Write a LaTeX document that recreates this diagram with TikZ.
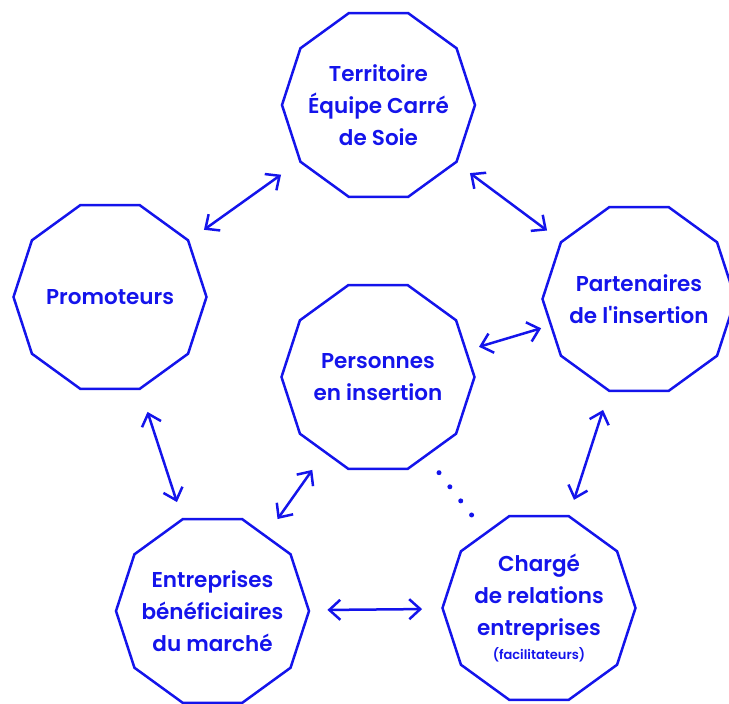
\documentclass[tikz,border=0pt]{standalone}
\usepackage{fontspec}
\setmainfont{Poppins}[UprightFont=* SemiBold, Ligatures=TeXOff]
\usetikzlibrary{shapes.geometric,arrows.meta,calc}
\definecolor{bl}{RGB}{20,20,235}
\begin{document}
\begin{tikzpicture}[x=1pt,y=-1pt,
  deca/.style={draw=bl, line width=2.5pt, regular polygon, regular polygon sides=10,
    minimum size=193pt, inner sep=0pt},
  lab/.style={text=bl, align=center, inner sep=0pt, font=\fontsize{21.5}{32}\selectfont},
  arr/.style={draw=bl, line width=2.5pt,
    {Straight Barb[length=11pt,width=20pt]}-{Straight Barb[length=11pt,width=20pt]}},
  dotline/.style={draw=bl, line width=5pt, line cap=round, dash pattern=on 0pt off 17.8pt}]
\useasboundingbox (0,0) rectangle (729,704);

\node[deca] (ter) at (378.5,105) {};
\node[deca] (pro) at (110,297) {};
\node[deca] (par) at (639,299) {};
\node[deca] (per) at (378,377) {};
\node[deca] (ent) at (212.5,611) {};
\node[deca] (cha) at (539,608) {};

\node[lab] (terT) at (ter) {Territoire\\Équipe Carré\\de Soie};
\node[lab] (proT) at (pro) {Promoteurs};
\node[lab] (parT) at (par) {Partenaires\\de l'insertion};
\node[lab] (perT) at (per) {Personnes\\en insertion};
\node[lab] (entT) at (ent) {Entreprises\\bénéficiaires\\du marché};
\node[lab] (chaT) at (cha) {Chargé\\de relations\\entreprises\\[-8pt]{\fontsize{13}{14}\selectfont (facilitateurs)}};

\draw[arr] ($(ter)!0.363!(pro)$) -- ($(ter)!0.650!(pro)$);
\draw[arr] ($(ter)!0.351!(par)$) -- ($(ter)!0.647!(par)$);
\draw[arr] ($(per)!0.387!(par)$) -- ($(per)!0.625!(par)$);
\draw[arr] ($(par)!0.359!(cha)$) -- ($(par)!0.650!(cha)$);
\draw[arr] ($(pro)!0.366!(ent)$) -- ($(pro)!0.653!(ent)$);
\draw[arr] ($(per)!0.397!(ent)$) -- ($(per)!0.607!(ent)$);
\draw[arr] ($(ent)!0.352!(cha)$) -- ($(ent)!0.642!(cha)$);

\coordinate (d1) at (439,472.7);
\coordinate (d2) at (472,515.5);
\draw[dotline] (d1) -- (d2);
\end{tikzpicture}
\end{document}
